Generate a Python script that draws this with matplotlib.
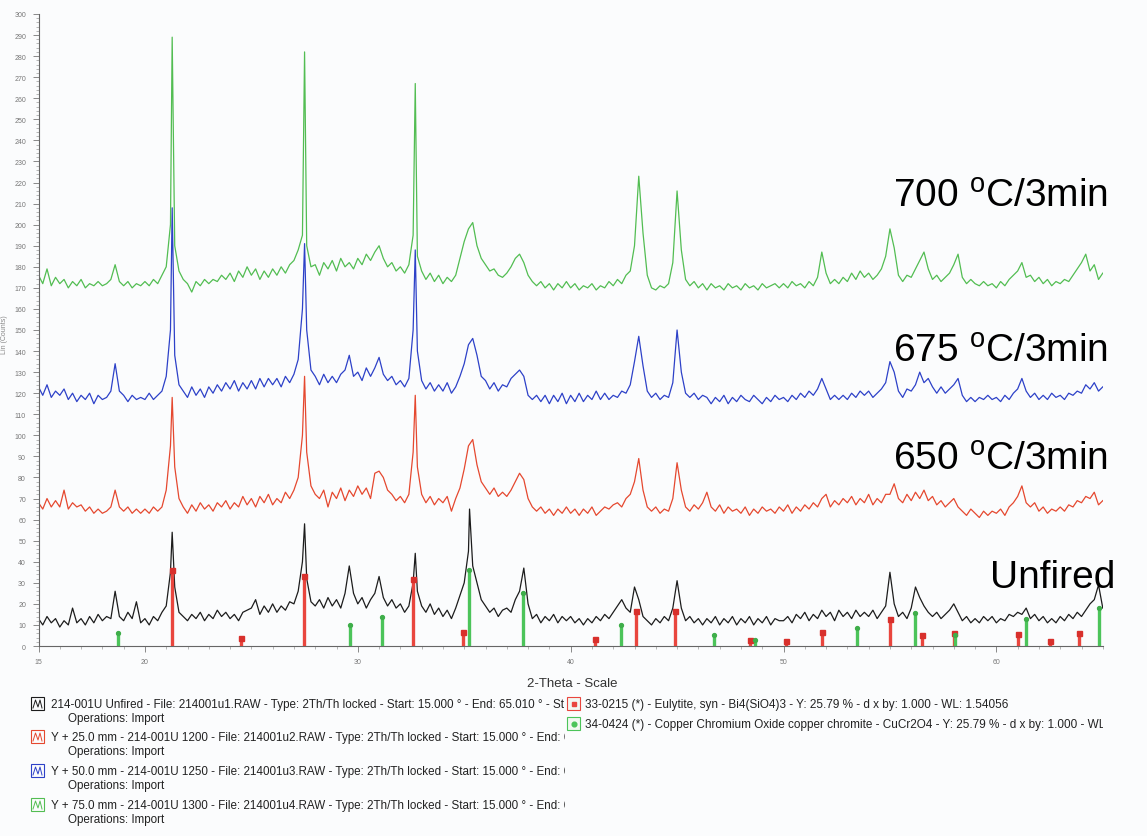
import matplotlib
matplotlib.use("Agg")
import matplotlib.pyplot as plt
import numpy as np
from matplotlib.patches import Rectangle

plt.rcParams["font.family"] = ["Liberation Sans", "DejaVu Sans"]
plt.rcParams["mathtext.fontset"] = "custom"
plt.rcParams["mathtext.rm"] = "Liberation Sans"

W, H = 1147, 837

# 2-theta sampling grid (deg), 0.2 step, read every 0.2 deg off the scan
TWO_THETA = np.round(np.arange(15.0, 65.001, 0.2), 1)

# ---- traces, values in counts (already offset by Y + 25/50/75 mm) ----
UNFIRED = (
    [13, 10, 14, 11, 13, 9, 12, 10, 18, 11, 13, 10, 14, 11, 15, 12, 14, 13, 26, 14, 12, 16, 13, 21, 11]
    + [13, 10, 14, 12, 16, 19, 35, 28, 16, 14, 12, 15, 13, 16, 12, 15, 13, 17, 14, 16, 13, 15, 12, 16, 17]
    + [18, 22, 15, 19, 16, 20, 16, 19, 17, 21, 20, 26, 40, 32, 21, 19, 22, 18, 23, 19, 22, 18, 25, 38, 25]
    + [20, 23, 18, 22, 25, 33, 23, 19, 22, 18, 20, 16, 19, 30, 26, 19, 16, 20, 15, 18, 14, 17, 13, 18, 24]
    + [30, 45, 38, 30, 22, 19, 16, 18, 14, 17, 18, 16, 22, 26, 37, 20, 13, 15, 11, 14, 12, 15, 11, 14, 12]
    + [14, 11, 13, 10, 13, 11, 14, 12, 15, 13, 16, 19, 22, 18, 16, 28, 22, 14, 12, 10, 13, 11, 14, 12, 18]
    + [31, 18, 12, 14, 11, 13, 10, 13, 11, 14, 10, 13, 11, 14, 10, 13, 11, 14, 10, 13, 11, 14, 10, 13, 12]
    + [12, 14, 11, 15, 13, 16, 12, 15, 13, 17, 14, 16, 12, 17, 14, 16, 13, 17, 14, 16, 14, 17, 13, 16, 19]
    + [35, 20, 14, 16, 13, 18, 28, 23, 19, 16, 14, 16, 13, 15, 17, 20, 16, 12, 14, 11, 13, 11, 14, 12, 14]
    + [11, 13, 12, 15, 14, 16, 15, 18, 13, 15, 12, 14, 11, 13, 11, 14, 12, 15, 13, 16, 14, 17, 20, 22, 29]
    + [18]
)
T650 = (
    [68, 65, 70, 66, 69, 66, 74, 65, 68, 66, 67, 64, 66, 63, 65, 63, 64, 66, 74, 66, 64, 66, 63, 65, 63]
    + [65, 63, 66, 64, 66, 74, 95, 85, 70, 66, 63, 67, 64, 68, 65, 67, 64, 68, 66, 69, 65, 68, 66, 71, 67]
    + [70, 66, 71, 68, 72, 67, 70, 68, 73, 70, 74, 80, 100, 92, 76, 72, 70, 74, 66, 73, 70, 75, 69, 74, 71]
    + [76, 72, 75, 70, 82, 83, 80, 74, 72, 69, 71, 68, 72, 92, 85, 72, 68, 71, 67, 70, 68, 71, 64, 70, 75]
    + [84, 95, 98, 86, 78, 75, 72, 75, 71, 73, 71, 74, 78, 82, 79, 70, 66, 64, 66, 63, 65, 62, 65, 63, 66]
    + [63, 65, 62, 65, 63, 66, 62, 64, 66, 65, 67, 68, 66, 70, 72, 78, 89, 74, 66, 64, 66, 63, 65, 64, 70]
    + [87, 74, 66, 64, 67, 65, 68, 73, 66, 64, 67, 63, 66, 64, 65, 63, 66, 62, 65, 63, 66, 64, 65, 63, 66]
    + [64, 67, 63, 66, 64, 67, 65, 68, 66, 70, 72, 66, 69, 67, 70, 68, 71, 67, 70, 68, 72, 67, 70, 68, 72]
    + [72, 77, 70, 68, 72, 69, 73, 70, 74, 69, 71, 67, 69, 66, 68, 70, 66, 64, 62, 65, 63, 61, 64, 62, 64]
    + [63, 65, 62, 66, 68, 71, 76, 68, 66, 68, 64, 66, 63, 65, 64, 66, 64, 67, 66, 69, 68, 71, 70, 73, 67]
    + [69]
)
T675 = (
    [123, 119, 124, 118, 121, 119, 122, 117, 120, 116, 119, 117, 120, 115, 119, 117, 118, 121, 134, 121, 119, 116, 119, 117, 118]
    + [117, 120, 117, 119, 121, 128, 150, 138, 124, 121, 118, 123, 119, 122, 118, 123, 120, 124, 121, 125, 122, 126, 121, 125, 122]
    + [126, 122, 127, 123, 127, 124, 127, 123, 128, 125, 129, 136, 160, 150, 131, 128, 124, 129, 125, 128, 125, 129, 131, 138, 128]
    + [130, 126, 132, 128, 132, 137, 129, 126, 128, 124, 126, 123, 127, 150, 140, 126, 122, 125, 121, 124, 121, 125, 120, 123, 128]
    + [134, 143, 146, 138, 128, 126, 122, 125, 121, 124, 123, 127, 129, 131, 128, 119, 117, 119, 116, 119, 115, 119, 116, 120, 115]
    + [119, 116, 120, 116, 119, 117, 121, 117, 120, 117, 119, 118, 121, 120, 124, 135, 147, 133, 121, 118, 120, 117, 119, 118, 125]
    + [150, 130, 120, 118, 120, 117, 119, 118, 115, 118, 116, 119, 115, 118, 116, 119, 117, 116, 119, 117, 115, 118, 116, 119, 117]
    + [118, 116, 119, 117, 120, 118, 121, 119, 122, 127, 122, 117, 119, 117, 119, 117, 120, 118, 121, 119, 121, 118, 120, 122, 125]
    + [135, 130, 121, 118, 122, 121, 124, 130, 125, 127, 123, 120, 123, 120, 122, 124, 127, 119, 116, 118, 116, 118, 117, 119, 117]
    + [118, 116, 119, 117, 120, 122, 127, 121, 118, 120, 117, 119, 117, 120, 118, 119, 117, 120, 119, 121, 120, 124, 122, 125, 121]
    + [123]
)
T700 = (
    [176, 172, 179, 171, 175, 172, 174, 170, 173, 171, 174, 170, 172, 171, 173, 171, 172, 174, 181, 173, 171, 173, 170, 172, 171]
    + [173, 171, 174, 172, 176, 180, 200, 190, 178, 174, 172, 168, 173, 171, 174, 172, 174, 173, 176, 174, 177, 173, 178, 175, 180]
    + [176, 179, 174, 178, 175, 179, 176, 180, 177, 181, 183, 188, 195, 190, 180, 181, 176, 182, 179, 183, 178, 184, 180, 182, 179]
    + [184, 181, 186, 183, 187, 190, 184, 180, 182, 178, 180, 177, 181, 195, 185, 178, 174, 177, 173, 176, 172, 175, 173, 176, 184]
    + [192, 198, 201, 190, 184, 181, 178, 179, 176, 175, 177, 180, 184, 186, 182, 176, 173, 171, 173, 170, 172, 169, 172, 170, 173]
    + [170, 172, 169, 171, 170, 172, 169, 171, 170, 173, 171, 174, 172, 176, 178, 190, 223, 196, 176, 170, 169, 171, 170, 172, 182]
    + [216, 188, 174, 171, 173, 170, 172, 169, 172, 170, 171, 169, 172, 170, 171, 169, 172, 170, 171, 169, 172, 170, 171, 172, 170]
    + [172, 170, 173, 171, 172, 170, 173, 171, 175, 187, 177, 172, 174, 172, 175, 173, 177, 174, 178, 175, 177, 174, 176, 179, 185]
    + [198, 189, 176, 173, 176, 175, 179, 183, 187, 179, 174, 176, 173, 175, 177, 181, 186, 175, 172, 174, 172, 171, 173, 171, 172]
    + [170, 173, 171, 174, 176, 178, 182, 175, 176, 173, 175, 172, 174, 171, 173, 172, 174, 173, 176, 179, 182, 186, 178, 181, 174]
    + [177]
)

# sharp reflection tops that fall between grid points (2-theta, counts)
PEAKS_UNFIRED = [(21.28, 54), (27.5, 58), (32.7, 44), (35.25, 65)]
PEAKS_650 = [(21.28, 118), (27.5, 128), (32.7, 119)]
PEAKS_675 = [(21.28, 208), (27.5, 191), (32.7, 188)]
PEAKS_700 = [(21.28, 289), (27.5, 282), (32.7, 267)]

# reference patterns (stick positions / heights)
EULYTITE_POS = [21.28, 24.5, 27.47, 32.58, 34.93, 41.16, 43.09, 44.9, 48.42, 50.14,
                51.81, 55.0, 56.5, 58.0, 61.0, 62.5, 63.88]
EULYTITE_H = [36, 3.6, 33, 32, 6.6, 3.3, 16.4, 16.4, 2.8, 2.4, 6.7, 13, 5.4, 6.2, 5.9, 2.4, 6]
CHROMITE_POS = [18.74, 29.64, 31.15, 35.22, 37.77, 42.38, 46.73, 48.67, 53.45, 56.17,
                58.05, 61.4, 64.84]
CHROMITE_H = [6, 10, 14, 36, 25, 10, 5.4, 3, 8.7, 15.5, 5, 13, 18]

COL_K = "#1c1c1c"
COL_R = "#e5482f"
COL_B = "#2d41c8"
COL_G = "#52bd52"
COL_STICK_R = "#e9463e"
COL_STICK_G = "#4cc45a"

# legend lines as far as they are legible on the scan (cut at the PDF column)
LEGEND_LINES = [
    ("214-001U Unfired - File: 214001u1.RAW - Type: 2Th/Th locked - Start: 15.000 \u00b0 - End: 65.010 \u00b0 - St", COL_K),
    ("Y + 25.0 mm - 214-001U 1200 - File: 214001u2.RAW - Type: 2Th/Th locked - Start: 15.000 \u00b0 - End: 6", COL_R),
    ("Y + 50.0 mm - 214-001U 1250 - File: 214001u3.RAW - Type: 2Th/Th locked - Start: 15.000 \u00b0 - End: 6", COL_B),
    ("Y + 75.0 mm - 214-001U 1300 - File: 214001u4.RAW - Type: 2Th/Th locked - Start: 15.000 \u00b0 - End: 6", COL_G),
]
PDF_LINES = [
    ("33-0215 (*) - Eulytite, syn - Bi4(SiO4)3 - Y: 25.79 % - d x by: 1.000 - WL: 1.54056", COL_STICK_R, "s"),
    ("34-0424 (*) - Copper Chromium Oxide copper chromite - CuCr2O4 - Y: 25.79 % - d x by: 1.000 - WL", COL_STICK_G, "o"),
]
LABELS = [("700 $^{\\rm o}$C/3min", 893, 207), ("675 $^{\\rm o}$C/3min", 893, 362),
          ("650 $^{\\rm o}$C/3min", 893, 470), ("Unfired", 990, 588)]


def fx(px):
    return px / W


def fy(py):
    return 1 - py / H


def merged(values, peaks):
    x = np.concatenate([TWO_THETA, [p[0] for p in peaks]])
    y = np.concatenate([np.array(values, float), [p[1] for p in peaks]])
    order = np.argsort(x, kind="stable")
    return x[order], y[order]


fig = plt.figure(figsize=(W / 100, H / 100), dpi=100)
fig.patch.set_facecolor("#fbfcfd")
ax = fig.add_axes([fx(38.5), fy(647), fx(1103) - fx(38.5), fy(15) - fy(647)])
ax.set_facecolor("none")

for vals, peaks, col in [(UNFIRED, PEAKS_UNFIRED, COL_K), (T650, PEAKS_650, COL_R),
                         (T675, PEAKS_675, COL_B), (T700, PEAKS_700, COL_G)]:
    x, y = merged(vals, peaks)
    ax.plot(x, y, color=col, lw=0.9, zorder=2)

ax.vlines(EULYTITE_POS, 0, EULYTITE_H, color=COL_STICK_R, lw=2.4, zorder=3)
ax.plot(EULYTITE_POS, EULYTITE_H, "s", ms=3.6, color="#d8302c", zorder=4)
ax.vlines(CHROMITE_POS, 0, CHROMITE_H, color=COL_STICK_G, lw=2.4, zorder=3)
ax.plot(CHROMITE_POS, CHROMITE_H, "o", ms=2.8, color="#3fae4a", zorder=4)

ax.set_xlim(15, 65.01)
ax.set_ylim(0, 300)
for s in ["top", "right"]:
    ax.spines[s].set_visible(False)
for s in ["left", "bottom"]:
    ax.spines[s].set_color("#666666")
    ax.spines[s].set_linewidth(0.8)

ax.set_yticks(np.arange(0, 301, 10))
ax.set_yticks(np.arange(0, 301, 2), minor=True)
ax.set_xticks([15, 20, 30, 40, 50, 60])
ax.set_xticks(np.arange(15, 66, 1), minor=True)
ax.tick_params(which="major", length=4, width=0.6, color="#777777",
               labelsize=5, labelcolor="#777777", pad=5)
ax.tick_params(which="minor", length=2, width=0.5, color="#999999")

fig.text(fx(572), fy(684), "2-Theta - Scale", fontsize=9.5, color="#333333",
         ha="center", va="center")
fig.text(fx(5), fy(335), "Lin (Counts)", fontsize=5, color="#888888",
         rotation=90, ha="center", va="center")

for text, px, py in LABELS:
    fig.text(fx(px), fy(py), text, fontsize=28, color="black", ha="left", va="baseline")

# legend block below the axes; two pixel-coordinate axes used only to clip the long lines
lax = fig.add_axes([0, 0, fx(565), 1])
lax.set_xlim(0, 565)
lax.set_ylim(H, 0)
lax.axis("off")
rax = fig.add_axes([0, 0, fx(1103), 1])
rax.set_xlim(0, 1103)
rax.set_ylim(H, 0)
rax.axis("off")

rows = [705, 738, 772, 806]
for (text, col), py in zip(LEGEND_LINES, rows):
    lax.add_patch(Rectangle((31, py - 7), 13, 13, fill=False, edgecolor=col, lw=0.8))
    lax.plot([33, 35.5, 38, 40, 42], [py + 4, py - 4, py + 3, py - 4, py + 4], color=col, lw=0.7)
    lax.text(51, py, text, fontsize=8.4, color="#222222", va="center", clip_on=True)
    lax.text(68, py + 14, "Operations: Import", fontsize=8.4, color="#222222", va="center")

for (text, col, mk), py in zip(PDF_LINES, [705, 725]):
    rax.add_patch(Rectangle((567, py - 7), 13, 13, facecolor="#f2f8f2", edgecolor=col, lw=0.8))
    rax.plot([573.5], [py], marker=mk, ms=3.4, color=col)
    rax.text(585, py, text, fontsize=8.5, color="#222222", va="center", clip_on=True)

fig.savefig("out.png", dpi=100, facecolor=fig.get_facecolor())
